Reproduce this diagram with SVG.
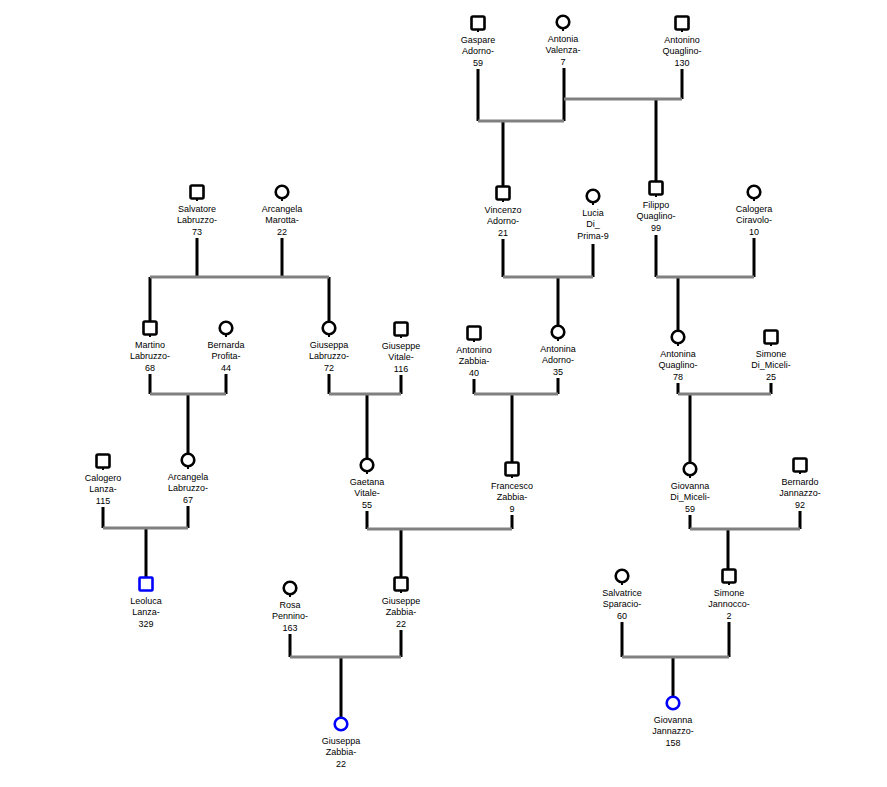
<svg xmlns="http://www.w3.org/2000/svg" width="887" height="787" viewBox="0 0 887 787">
<style>
.sq{fill:#fff;stroke:#000;stroke-width:2.6}
.ci{fill:#fff;stroke:#000;stroke-width:2.6}
.focus{stroke:#0000ff}
.stub{stroke:#000;stroke-width:2}
text{font-family:"Liberation Sans",Arial,sans-serif;font-size:9px;fill:#000;text-anchor:middle}
.v{stroke:#000;stroke-width:3;fill:none}
.h{stroke:#808080;stroke-width:3;fill:none}
</style>
<rect width="887" height="787" fill="#fff"/>
<g id="connectors">
<path class="v" d="M478 69V121M564 68V121M682 69V99M503 121V186M656 99V181"/>
<path class="v" d="M197 238V277M282 238V277M150 277V322M329 277V321"/>
<path class="v" d="M503 239V277M593 244V277M558 277V325"/>
<path class="v" d="M656 235V277M754 238V277M678 277V330"/>
<path class="v" d="M150 374V394M226 374V394M188 394V453"/>
<path class="v" d="M329 374V394M401 375V394M367 394V458"/>
<path class="v" d="M474 379V394M558 378V394M512 394V462"/>
<path class="v" d="M678 383V394M771 383V394M690 394V462"/>
<path class="v" d="M103 507V528M188 506V528M146 528V577"/>
<path class="v" d="M367 511V529M512 515V529M401 529V577"/>
<path class="v" d="M690 515V529M800 511V529M728 529V569"/>
<path class="v" d="M290 634V657M401 630V657M341 657V717"/>
<path class="v" d="M622 622V657M729 622V657M673 657V696"/>
<path class="h" d="M478 121H564M564 99H682M150 277H329M503 277H593M656 277H754M150 394H226M329 394H401M474 394H558M678 394H771M103 528H188M367 529H512M690 529H800M290 657H401M622 657H729"/>
</g>
<g id="gaspare"><rect class="sq" x="471.5" y="16.5" width="13" height="13" rx="1.5"/><line class="stub" x1="478" y1="29.5" x2="478" y2="32"/><text x="478" y="42.5">Gaspare</text><text x="478" y="54">Adorno-</text><text x="478" y="65.5">59</text></g>
<g id="antonia_valenza"><circle class="ci" cx="563" cy="22" r="6.3"/><line class="stub" x1="563" y1="28.5" x2="563" y2="31"/><text x="563" y="41.5">Antonia</text><text x="563" y="53">Valenza-</text><text x="563" y="64.5">7</text></g>
<g id="antonino_quaglino"><rect class="sq" x="675.5" y="16.5" width="13" height="13" rx="1.5"/><line class="stub" x1="682" y1="29.5" x2="682" y2="32"/><text x="682" y="42.5">Antonino</text><text x="682" y="54">Quaglino-</text><text x="682" y="65.5">130</text></g>
<g id="salvatore"><rect class="sq" x="190.5" y="185.5" width="13" height="13" rx="1.5"/><line class="stub" x1="197" y1="198.5" x2="197" y2="201"/><text x="197" y="211.5">Salvatore</text><text x="197" y="223">Labruzzo-</text><text x="197" y="234.5">73</text></g>
<g id="arcangela_marotta"><circle class="ci" cx="282" cy="192" r="6.3"/><line class="stub" x1="282" y1="198.5" x2="282" y2="201"/><text x="282" y="211.5">Arcangela</text><text x="282" y="223">Marotta-</text><text x="282" y="234.5">22</text></g>
<g id="vincenzo"><rect class="sq" x="496.5" y="186.5" width="13" height="13" rx="1.5"/><line class="stub" x1="503" y1="199.5" x2="503" y2="202"/><text x="503" y="212.5">Vincenzo</text><text x="503" y="224">Adorno-</text><text x="503" y="235.5">21</text></g>
<g id="lucia"><circle class="ci" cx="593" cy="196" r="6.3"/><line class="stub" x1="593" y1="202.5" x2="593" y2="205"/><text x="593" y="215.5">Lucia</text><text x="593" y="227">Di_</text><text x="593" y="238.5">Prima-9</text></g>
<g id="filippo"><rect class="sq" x="649.5" y="181.5" width="13" height="13" rx="1.5"/><line class="stub" x1="656" y1="194.5" x2="656" y2="197"/><text x="656" y="207.5">Filippo</text><text x="656" y="219">Quaglino-</text><text x="656" y="230.5">99</text></g>
<g id="calogera"><circle class="ci" cx="754" cy="192" r="6.3"/><line class="stub" x1="754" y1="198.5" x2="754" y2="201"/><text x="754" y="211.5">Calogera</text><text x="754" y="223">Ciravolo-</text><text x="754" y="234.5">10</text></g>
<g id="martino"><rect class="sq" x="143.5" y="321.5" width="13" height="13" rx="1.5"/><line class="stub" x1="150" y1="334.5" x2="150" y2="337"/><text x="150" y="347.5">Martino</text><text x="150" y="359">Labruzzo-</text><text x="150" y="370.5">68</text></g>
<g id="bernarda"><circle class="ci" cx="226" cy="328" r="6.3"/><line class="stub" x1="226" y1="334.5" x2="226" y2="337"/><text x="226" y="347.5">Bernarda</text><text x="226" y="359">Profita-</text><text x="226" y="370.5">44</text></g>
<g id="giuseppa_labruzzo"><circle class="ci" cx="329" cy="328" r="6.3"/><line class="stub" x1="329" y1="334.5" x2="329" y2="337"/><text x="329" y="347.5">Giuseppa</text><text x="329" y="359">Labruzzo-</text><text x="329" y="370.5">72</text></g>
<g id="giuseppe_vitale"><rect class="sq" x="394.5" y="322.5" width="13" height="13" rx="1.5"/><line class="stub" x1="401" y1="335.5" x2="401" y2="338"/><text x="401" y="348.5">Giuseppe</text><text x="401" y="360">Vitale-</text><text x="401" y="371.5">116</text></g>
<g id="antonino_zabbia"><rect class="sq" x="467.5" y="326.5" width="13" height="13" rx="1.5"/><line class="stub" x1="474" y1="339.5" x2="474" y2="342"/><text x="474" y="352.5">Antonino</text><text x="474" y="364">Zabbia-</text><text x="474" y="375.5">40</text></g>
<g id="antonina_adorno"><circle class="ci" cx="558" cy="332" r="6.3"/><line class="stub" x1="558" y1="338.5" x2="558" y2="341"/><text x="558" y="351.5">Antonina</text><text x="558" y="363">Adorno-</text><text x="558" y="374.5">35</text></g>
<g id="antonina_quaglino"><circle class="ci" cx="678" cy="337" r="6.3"/><line class="stub" x1="678" y1="343.5" x2="678" y2="346"/><text x="678" y="356.5">Antonina</text><text x="678" y="368">Quaglino-</text><text x="678" y="379.5">78</text></g>
<g id="simone_dimiceli"><rect class="sq" x="764.5" y="330.5" width="13" height="13" rx="1.5"/><line class="stub" x1="771" y1="343.5" x2="771" y2="346"/><text x="771" y="356.5">Simone</text><text x="771" y="368">Di_Miceli-</text><text x="771" y="379.5">25</text></g>
<g id="calogero"><rect class="sq" x="96.5" y="454.5" width="13" height="13" rx="1.5"/><line class="stub" x1="103" y1="467.5" x2="103" y2="470"/><text x="103" y="480.5">Calogero</text><text x="103" y="492">Lanza-</text><text x="103" y="503.5">115</text></g>
<g id="arcangela_labruzzo"><circle class="ci" cx="188" cy="460" r="6.3"/><line class="stub" x1="188" y1="466.5" x2="188" y2="469"/><text x="188" y="479.5">Arcangela</text><text x="188" y="491">Labruzzo-</text><text x="188" y="502.5">67</text></g>
<g id="gaetana"><circle class="ci" cx="367" cy="465" r="6.3"/><line class="stub" x1="367" y1="471.5" x2="367" y2="474"/><text x="367" y="484.5">Gaetana</text><text x="367" y="496">Vitale-</text><text x="367" y="507.5">55</text></g>
<g id="francesco"><rect class="sq" x="505.5" y="462.5" width="13" height="13" rx="1.5"/><line class="stub" x1="512" y1="475.5" x2="512" y2="478"/><text x="512" y="488.5">Francesco</text><text x="512" y="500">Zabbia-</text><text x="512" y="511.5">9</text></g>
<g id="giovanna_dimiceli"><circle class="ci" cx="690" cy="469" r="6.3"/><line class="stub" x1="690" y1="475.5" x2="690" y2="478"/><text x="690" y="488.5">Giovanna</text><text x="690" y="500">Di_Miceli-</text><text x="690" y="511.5">59</text></g>
<g id="bernardo"><rect class="sq" x="793.5" y="458.5" width="13" height="13" rx="1.5"/><line class="stub" x1="800" y1="471.5" x2="800" y2="474"/><text x="800" y="484.5">Bernardo</text><text x="800" y="496">Jannazzo-</text><text x="800" y="507.5">92</text></g>
<g id="leoluca"><rect class="sq focus" x="139.5" y="577.5" width="13" height="13" rx="1"/><text x="146" y="603.5">Leoluca</text><text x="146" y="615">Lanza-</text><text x="146" y="626.5">329</text></g>
<g id="rosa"><circle class="ci" cx="290" cy="588" r="6.3"/><line class="stub" x1="290" y1="594.5" x2="290" y2="597"/><text x="290" y="607.5">Rosa</text><text x="290" y="619">Pennino-</text><text x="290" y="630.5">163</text></g>
<g id="giuseppe_zabbia"><rect class="sq" x="394.5" y="577.5" width="13" height="13" rx="1.5"/><line class="stub" x1="401" y1="590.5" x2="401" y2="593"/><text x="401" y="603.5">Giuseppe</text><text x="401" y="615">Zabbia-</text><text x="401" y="626.5">22</text></g>
<g id="salvatrice"><circle class="ci" cx="622" cy="576" r="6.3"/><line class="stub" x1="622" y1="582.5" x2="622" y2="585"/><text x="622" y="595.5">Salvatrice</text><text x="622" y="607">Sparacio-</text><text x="622" y="618.5">60</text></g>
<g id="simone_jannocco"><rect class="sq" x="722.5" y="569.5" width="13" height="13" rx="1.5"/><line class="stub" x1="729" y1="582.5" x2="729" y2="585"/><text x="729" y="595.5">Simone</text><text x="729" y="607">Jannocco-</text><text x="729" y="618.5">2</text></g>
<g id="giuseppa_zabbia"><circle class="ci focus" cx="341" cy="724" r="6.3"/><text x="341" y="743.5">Giuseppa</text><text x="341" y="755">Zabbia-</text><text x="341" y="766.5">22</text></g>
<g id="giovanna_jannazzo"><circle class="ci focus" cx="673" cy="703" r="6.3"/><text x="673" y="722.5">Giovanna</text><text x="673" y="734">Jannazzo-</text><text x="673" y="745.5">158</text></g>
</svg>
